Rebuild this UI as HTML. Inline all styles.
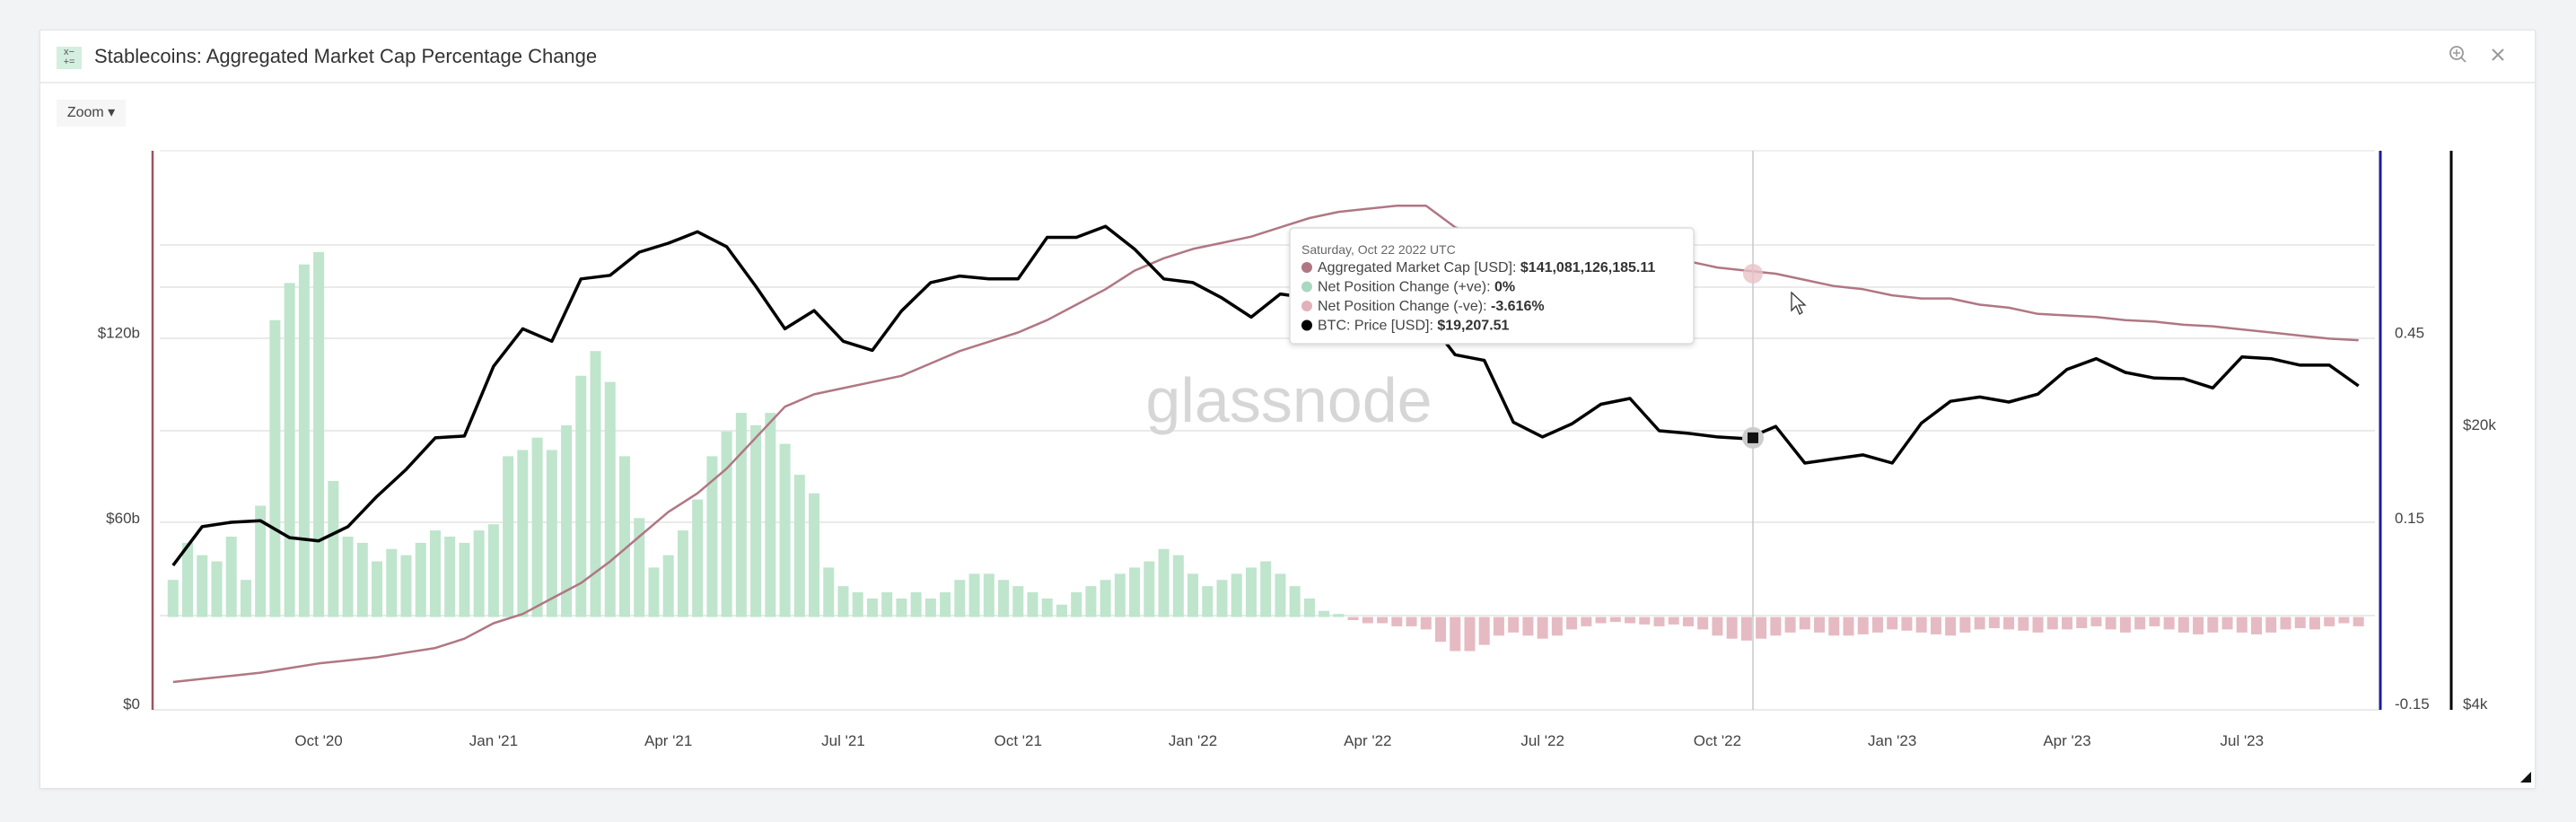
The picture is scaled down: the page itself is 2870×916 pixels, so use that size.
<!DOCTYPE html>
<html><head><meta charset="utf-8">
<style>
html,body{margin:0;padding:0;width:2870px;height:916px;background:#f2f3f5;overflow:hidden;font-family:"Liberation Sans",sans-serif;}
#card{position:absolute;left:44px;top:33px;width:2779px;height:844px;background:#fff;border:1px solid #e3e4e7;box-shadow:0 1px 4px rgba(0,0,0,.06);}
#hdr{position:absolute;left:0;top:0;width:100%;height:57px;border-bottom:2px solid #ececee;}
#icon{position:absolute;left:18px;top:18px;width:28px;height:25px;background:#d4eedf;color:#555;font-size:11px;line-height:11px;text-align:center;padding-top:1px;box-sizing:border-box;}
#title{position:absolute;left:60px;top:16px;font-size:22px;color:#333;}
#zoom{position:absolute;left:18px;top:77px;width:77px;height:30px;background:#f6f6f7;font-size:16px;color:#444;line-height:30px;text-align:center;}
svg{position:absolute;left:0;top:0;}
</style></head><body>
<div id="card">
 <div id="hdr">
  <div id="icon">x−<br>+=</div>
  <div id="title">Stablecoins: Aggregated Market Cap Percentage Change</div>
 </div>
 <div id="zoom">Zoom ▾</div>
</div>
<svg id="chart" width="2870" height="916" viewBox="0 0 2870 916"></svg>
<script>
// month offsets from Jul 1 2020; series are semi-monthly starting Jul 15 2020
const xTickLabels=["Oct '20","Jan '21","Apr '21","Jul '21","Oct '21","Jan '22","Apr '22","Jul '22","Oct '22","Jan '23","Apr '23","Jul '23"];
const xTickMonths=[3,6,9,12,15,18,21,24,27,30,33,36];
const leftTicks=[0,60,120];
const leftTickLabels=["$0","$60b","$120b"];
const pctTicks=[-0.15,0.15,0.45];
const pctTickLabels=["-0.15","0.15","0.45"];
const btcTicks=[4,20];
const btcTickLabels=["$4k","$20k"];
const btcPrice=[9.2,11.5,11.8,11.9,10.8,10.6,11.5,13.7,16,19.2,19.4,
29,36,33.5,48,49,56,59,63,57.8,46,36,40,33.5,31.8,39.9,47,48.8,48,48,61,61,65,57,48,
47,43,38.5,44,43,39,46,40,38.5,31,30,21,19.3,20.8,23.3,24.1,20,19.7,19.3,19.1,20.5,16.6,17,17.4,
16.6,20.9,23.7,24.3,23.6,24.7,28.5,30.3,28,27.1,27,25.6,30.6,30.3,29.2,29.2,25.9];
const marketCap=[9,10,11,12,13.5,15,16,17,18.5,20,23,
28,31,36,41,48,56,64,70,78,88,98,102,104,106,108,112,116,119,122,126,131,136,142,146,
149,151,153,156,159,161,162,163,163,156,153,151,149,148,147.5,147,146,145,143,142,141,139,137,136,
134,133,133,131,130,128,127.5,127,126,125.5,124.5,124,123,122,121,120,119.5];
// weekly net position change, starting Jul 15 2020, quarter-month steps
const netChange=[0.06,0.12,0.10,0.09,0.13,0.06,0.18,0.48,0.54,0.57,0.59,0.22,0.13,0.12,0.09,0.11,0.10,0.12,0.14,0.13,0.12,0.14,0.15,0.26,0.27,0.29,0.27,0.31,0.39,0.43,0.38,0.26,0.16,0.08,0.10,0.14,0.19,0.26,0.30,0.33,0.31,0.33,0.28,0.23,0.20,0.08,0.05,0.04,0.03,0.04,0.03,0.04,0.03,0.04,0.06,0.07,0.07,0.06,0.05,0.04,0.03,0.02,0.04,0.05,0.06,0.07,0.08,0.09,0.11,0.10,0.07,0.05,0.06,0.07,0.08,0.09,0.07,0.05,0.03,0.01,0.005,-0.005,-0.01,-0.01,-0.015,-0.015,-0.02,-0.04,-0.055,-0.055,-0.045,-0.03,-0.025,-0.03,-0.035,-0.03,-0.02,-0.015,-0.01,-0.008,-0.01,-0.012,-0.015,-0.012,-0.015,-0.02,-0.03,-0.035,-0.038,-0.035,-0.03,-0.025,-0.02,-0.025,-0.03,-0.03,-0.028,-0.025,-0.02,-0.022,-0.025,-0.028,-0.03,-0.025,-0.02,-0.018,-0.02,-0.022,-0.025,-0.02,-0.02,-0.018,-0.015,-0.02,-0.025,-0.02,-0.015,-0.02,-0.025,-0.028,-0.025,-0.02,-0.025,-0.028,-0.025,-0.02,-0.018,-0.02,-0.015,-0.01,-0.015];

const NS="http://www.w3.org/2000/svg";
const svg=document.getElementById('chart');
const TOP=168,BOT=791,L=170,R=2652;
function xOf(m){return 355.1+(m-3)*64.93;}
function yCap(v){return BOT-v/60*206.8;}
function yPct(v){return BOT-(v+0.15)/0.3*206.8;}
function yBtc(p){return BOT-Math.log10(p/4)/Math.log10(5)*311;}
function mk(tag,attrs,parent){const e=document.createElementNS(NS,tag);for(const k in attrs)e.setAttribute(k,attrs[k]);(parent||svg).appendChild(e);return e;}

const gridG=mk('g',{});


[273,320,377,480,582,686].forEach(y=>{mk('line',{x1:L+8,x2:R-6,y1:y,y2:y,stroke:'#e4e4e4','stroke-width':1.5},gridG);});
mk('line',{x1:L+8,x2:R-6,y1:TOP,y2:TOP,stroke:'#ececec','stroke-width':1.5},gridG);
mk('line',{x1:L,x2:R,y1:BOT,y2:BOT,stroke:'#e4e4e4','stroke-width':1.5},gridG);

const wm=mk('text',{x:1436,y:470,'font-size':70,'text-anchor':'middle',fill:'#d6d6d6','font-family':'Liberation Sans, sans-serif'});
wm.textContent='glassnode';



const barG=mk('g',{});


const y0=yPct(0);
netChange.forEach((v,j)=>{
  const m=0.5+0.25*j;const x=xOf(m);const y=yPct(v);
  const r=mk('rect',{x:x-6,width:12,y:Math.min(y,y0),height:Math.max(1,Math.abs(y-y0)),fill:v>=0?'#bfe5cd':'#e6bac2'},barG);
  
  
});

function path(arr,yf,color,w,name){
  let d='';arr.forEach((v,i)=>{const x=xOf(0.5+0.5*i);d+=(i?'L':'M')+x.toFixed(1)+','+yf(v).toFixed(1);});
  const p=mk('path',{d:d,fill:'none',stroke:color,'stroke-width':w,'stroke-linejoin':'round'});
  
  
}
path(marketCap,yCap,'#b07783',2.5,'market-cap-line');
path(btcPrice,yBtc,'#000',3.5,'btc-price-line');

const a1=mk('line',{x1:L,x2:L,y1:TOP,y2:BOT,stroke:'#a0525f','stroke-width':2.5});

const a2=mk('line',{x1:R,x2:R,y1:TOP,y2:BOT,stroke:'#1c1ca0','stroke-width':3});

const a3=mk('line',{x1:2731,x2:2731,y1:TOP,y2:BOT,stroke:'#000','stroke-width':3});


function label(x,y,txt,anchor,name){const t=mk('text',{x:x,y:y,'font-size':17,fill:'#444','text-anchor':anchor,'font-family':'Liberation Sans, sans-serif'});t.textContent=txt;}
leftTicks.forEach((v,i)=>label(156,yCap(v)-1,leftTickLabels[i],'end','left-tick-label'));
pctTicks.forEach((v,i)=>label(2668,yPct(v)-1,pctTickLabels[i],'start','pct-tick-label'));
btcTicks.forEach((v,i)=>label(2744,yBtc(v)-1,btcTickLabels[i],'start','btc-tick-label'));
xTickMonths.forEach((m,i)=>label(xOf(m),831,xTickLabels[i],'middle','x-tick-label'));

const cx=1953;
const ch=mk('line',{x1:cx,x2:cx,y1:TOP,y2:BOT,stroke:'#c8c8c8','stroke-width':1.5});

const c1=mk('circle',{cx:cx,cy:yCap(141),r:11,fill:'#e8c2c8',opacity:0.8});

const c2=mk('circle',{cx:cx,cy:yBtc(19.2),r:12,fill:'#ccc'});

const c3=mk('rect',{x:cx-6,y:yBtc(19.2)-6,width:12,height:12,fill:'#111'});


const tg=mk('g',{});


mk('rect',{x:1437,y:254,width:450,height:129,rx:4,fill:'#fff',stroke:'#ddd','stroke-width':1.5,style:'filter:drop-shadow(0 2px 3px rgba(0,0,0,.15))'},tg);
const tt=mk('text',{x:1450,y:283,'font-size':14,fill:'#666','font-family':'Liberation Sans, sans-serif'},tg);tt.textContent='Saturday, Oct 22 2022 UTC';
const rows=[['#b07783','Aggregated Market Cap [USD]: ','$141,081,126,185.11'],['#a9d8c0','Net Position Change (+ve): ','0%'],['#e2b1ba','Net Position Change (-ve): ','-3.616%'],['#000','BTC: Price [USD]: ','$19,207.51']];
rows.forEach((r,i)=>{const y=303+i*21.5;
  mk('circle',{cx:1456,cy:y-5,r:6,fill:r[0]},tg);
  const t=mk('text',{x:1468,y:y,'font-size':16,fill:'#444','font-family':'Liberation Sans, sans-serif'},tg);
  t.textContent=r[1];const b=mk('tspan',{'font-weight':'bold',fill:'#333'},t);b.textContent=r[2];
});

const zi=mk('g',{});

mk('circle',{cx:2737,cy:59,r:7,fill:'none',stroke:'#999','stroke-width':1.8},zi);
mk('line',{x1:2742,y1:64,x2:2747,y2:69,stroke:'#999','stroke-width':1.8},zi);
mk('line',{x1:2733,y1:59,x2:2741,y2:59,stroke:'#999','stroke-width':1.5},zi);
mk('line',{x1:2737,y1:55,x2:2737,y2:63,stroke:'#999','stroke-width':1.5},zi);
const xi=mk('g',{});

mk('line',{x1:2777,y1:55,x2:2789,y2:67,stroke:'#999','stroke-width':2},xi);
mk('line',{x1:2789,y1:55,x2:2777,y2:67,stroke:'#999','stroke-width':2},xi);
const rz=mk('polygon',{points:'2820,860 2820,872 2808,872',fill:'#111'});

const cur=mk('path',{d:'M1996,326 L1996,346 L2001,341 L2005,350 L2008,348 L2004,340 L2011,340 Z',fill:'#fff',stroke:'#333','stroke-width':1.3});

</script>
</body></html>
